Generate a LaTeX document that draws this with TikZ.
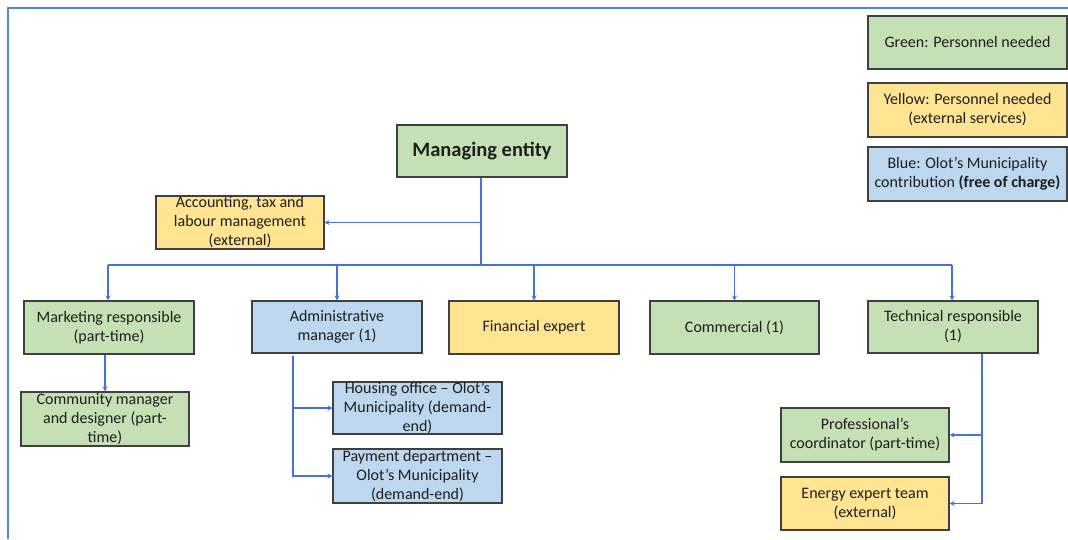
\documentclass[tikz,border=0pt]{standalone}
\usepackage{fontspec}
\setmainfont{Carlito}
\usetikzlibrary{arrows.meta}
\definecolor{boxgreen}{RGB}{197,224,180}
\definecolor{boxyellow}{RGB}{255,228,146}
\definecolor{boxblue}{RGB}{189,215,238}
\definecolor{boxedge}{RGB}{64,64,64}
\definecolor{linkblue}{RGB}{68,114,214}
\definecolor{framecol}{RGB}{86,134,210}
\definecolor{txt}{RGB}{30,30,30}
\begin{document}
\begin{tikzpicture}[x=1pt,y=-1pt,
  unit/.style={draw=boxedge,line width=1.1pt,inner sep=0pt,align=center,
    text=txt,font=\fontsize{16}{19}\selectfont},
  gbox/.style={unit,fill=boxgreen},
  ybox/.style={unit,fill=boxyellow},
  bbox/.style={unit,fill=boxblue},
  link/.style={draw=linkblue,line width=1.2pt},
  arr/.style={link,-{Stealth[length=5pt,width=5pt]}}]
\useasboundingbox (0,0) rectangle (1068,539);
% outer frame (top and left edges)
\draw[framecol,line width=2pt] (8,539) -- (8,8) -- (1068,8);

% legend
\node[gbox,minimum width=199pt,minimum height=53pt] (legG) at (967.5,42.5) {Green: Personnel needed};
\node[ybox,minimum width=199pt,minimum height=54pt] (legY) at (967.5,110) {Yellow: Personnel needed\\(external services)};
\node[bbox,minimum width=199pt,minimum height=54pt] (legB) at (967.5,174) {Blue: Olot’s Municipality\\contribution \textbf{(free of charge)}};

% organisation chart
\node[gbox,minimum width=170pt,minimum height=52pt,font=\fontsize{20.5}{24}\selectfont\bfseries] (top) at (482,151) {Managing entity};
\node[ybox,minimum width=168pt,minimum height=53pt] (acct) at (240,222.5) {Accounting, tax and\\labour management\\(external)};

\node[gbox,minimum width=170pt,minimum height=53pt] (mkt) at (109,327.5) {Marketing responsible\\(part-time)};
\node[gbox,minimum width=168pt,minimum height=54pt] (comm) at (105,419) {Community manager\\and designer (part-\\time)};
\node[bbox,minimum width=170pt,minimum height=52pt] (adm) at (337,327) {Administrative\\manager (1)};
\node[bbox,minimum width=169pt,minimum height=52pt] (hous) at (417.5,408) {Housing office – Olot’s\\Municipality (demand-\\end)};
\node[bbox,minimum width=169pt,minimum height=54pt] (pay) at (417.5,476) {Payment department –\\Olot’s Municipality\\(demand-end)};
\node[ybox,minimum width=170pt,minimum height=53pt] (fin) at (534,327.5) {Financial expert};
\node[gbox,minimum width=169pt,minimum height=53pt] (com) at (734.5,327.5) {Commercial (1)};
\node[gbox,minimum width=170pt,minimum height=52pt] (tech) at (953,327) {Technical responsible\\(1)};
\node[gbox,minimum width=168pt,minimum height=54pt] (prof) at (865,435) {Professional’s\\coordinator (part-time)};
\node[ybox,minimum width=168pt,minimum height=53pt] (en) at (865,503.5) {Energy expert team\\(external)};

% connectors
\coordinate (busL) at (108,265);
\coordinate (busR) at (952,265);
\coordinate (trunk) at (481,265);
\draw[link] (top.south -| trunk) -- (trunk);
\draw[link] (busL) -- (busR);
\draw[arr] (trunk |- acct.east) -- (acct.east);
\draw[arr] (busL) -- (busL |- mkt.north);
\draw[arr] (adm.north |- busL) -- (adm.north);
\draw[arr] (fin.north |- busL) -- (fin.north);
\draw[arr] (com.north |- busL) -- (com.north);
\draw[arr] (busR) -- (busR |- tech.north);
\draw[arr] (comm.north |- mkt.south) -- (comm.north);

\coordinate (admL) at (293,356);
\draw[arr] (admL) |- (pay.west);
\draw[arr] (admL |- hous.west) -- (hous.west);

\coordinate (techL) at (982,354);
\draw[arr] (techL) |- (en.east);
\draw[arr] (techL |- prof.east) -- (prof.east);
\end{tikzpicture}
\end{document}
